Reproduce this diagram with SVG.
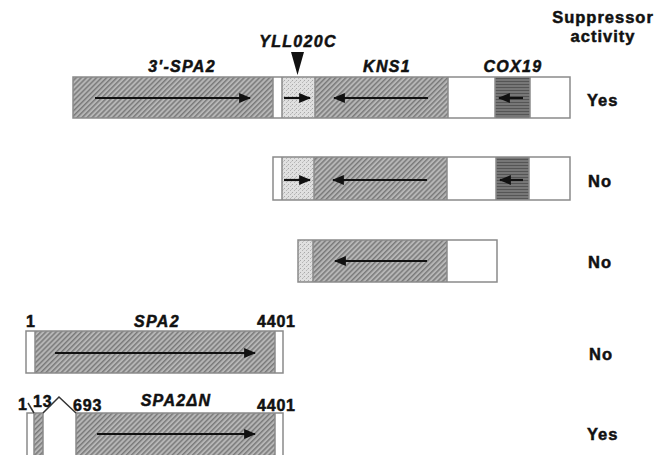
<svg xmlns="http://www.w3.org/2000/svg" width="665" height="455" viewBox="0 0 665 455">
<style>
text{font-family:"Liberation Sans",Arial,sans-serif;font-weight:bold;fill:#111;stroke:#111;stroke-width:0.5;}
.g{font-style:italic;font-size:16px;letter-spacing:1.3px;text-anchor:middle;}
.n{font-size:16px;letter-spacing:0.8px;}
.h{font-size:16.5px;letter-spacing:1px;text-anchor:middle;}
.r{font-size:16.5px;letter-spacing:1px;}
.box{stroke:#8a8a8a;stroke-width:1.5;}
.hat{fill:url(#hatch);}
.dot{fill:url(#stip);}
.dark{fill:url(#horiz);}
.wh{fill:#fff;}
.arr{stroke:#111;stroke-width:2.2;fill:none;}
.zz{stroke:#333;stroke-width:1.5;fill:none;}
</style>
<defs>
<pattern id="hatch" width="3.6" height="3.6" patternUnits="userSpaceOnUse" patternTransform="rotate(45)">
<rect width="3.6" height="3.6" fill="#b6b6b6"/>
<rect width="1.5" height="3.6" fill="#7a7a7a"/>
</pattern>
<pattern id="stip" width="4" height="4" patternUnits="userSpaceOnUse">
<rect width="4" height="4" fill="#e0e0e0"/>
<rect x="0" y="0" width="1" height="1" fill="#a8a8a8"/>
<rect x="2" y="2" width="1" height="1" fill="#b5b5b5"/>
<rect x="3" y="1" width="1" height="1" fill="#c5c5c5"/>
</pattern>
<pattern id="horiz" width="3" height="3" patternUnits="userSpaceOnUse">
<rect width="3" height="3" fill="#777"/>
<rect width="3" height="1" fill="#555"/>
</pattern>
<marker id="ah" viewBox="0 0 12 10" refX="11" refY="5" markerWidth="5.5" markerHeight="4.5" orient="auto-start-reverse" markerUnits="strokeWidth">
<path d="M0,0 L12,5 L0,10 z" fill="#111"/>
</marker>
</defs>
<rect width="665" height="455" fill="#fff"/>

<g id="header">
<text class="h" x="603" y="23">Suppressor</text>
<text class="h" x="603" y="42">activity</text>
</g>

<g id="row1">
<text class="g" x="182" y="72">3'-SPA2</text>
<text class="g" x="298" y="47">YLL020C</text>
<path d="M291,52 L304,52 L297.5,75 z" fill="#111"/>
<text class="g" x="387" y="72">KNS1</text>
<text class="g" x="513" y="72">COX19</text>
<rect class="hat" x="73" y="77" width="200" height="41"/>
<rect class="wh" x="273" y="77" width="9" height="41"/>
<rect class="dot" x="282" y="77" width="33" height="41"/>
<rect class="hat" x="315" y="77" width="133" height="41"/>
<rect class="wh" x="448" y="77" width="47" height="41"/>
<rect class="dark" x="495" y="77" width="35" height="41"/>
<rect class="wh" x="530" y="77" width="40" height="41"/>
<rect class="box" x="73" y="77" width="497" height="41" fill="none"/>
<path class="box" d="M273,77V118M282,77V118M315,77V118M448,77V118M495,77V118M530,77V118" fill="none" stroke-width="1"/>
<text class="r" x="587" y="106">Yes</text>
</g>

<g id="row2">
<rect class="wh" x="273" y="157" width="9" height="43"/>
<rect class="dot" x="282" y="157" width="32" height="43"/>
<rect class="hat" x="314" y="157" width="133" height="43"/>
<rect class="wh" x="447" y="157" width="49" height="43"/>
<rect class="dark" x="496" y="157" width="33" height="43"/>
<rect class="wh" x="529" y="157" width="41" height="43"/>
<rect class="box" x="273" y="157" width="297" height="43" fill="none"/>
<path class="box" d="M282,157V200M314,157V200M447,157V200M496,157V200M529,157V200" fill="none" stroke-width="1"/>
<text class="r" x="588" y="187">No</text>
</g>

<g id="row3">
<rect class="dot" x="298" y="240" width="15" height="42"/>
<rect class="hat" x="313" y="240" width="134" height="42"/>
<rect class="wh" x="447" y="240" width="50" height="42"/>
<rect class="box" x="298" y="240" width="199" height="42" fill="none"/>
<path class="box" d="M313,240V282M447,240V282" fill="none" stroke-width="1"/>
<text class="r" x="588" y="268">No</text>
</g>

<g id="row4">
<text class="n" x="26" y="327">1</text>
<text class="g" x="157" y="327">SPA2</text>
<text class="n" x="257" y="327">4401</text>
<rect class="wh" x="26" y="331" width="9" height="42"/>
<rect class="hat" x="35" y="331" width="240" height="42"/>
<rect class="wh" x="275" y="331" width="8" height="42"/>
<rect class="box" x="26" y="331" width="257" height="42" fill="none"/>
<path class="box" d="M35,331V373M275,331V373" fill="none" stroke-width="1"/>
<text class="r" x="589" y="360">No</text>
</g>

<g id="row5">
<text class="n" x="18" y="410">1</text>
<text class="n" x="33" y="407">13</text>
<text class="n" x="73" y="411">693</text>
<text class="g" x="176" y="406">SPA2ΔN</text>
<text class="n" x="257" y="411">4401</text>
<rect class="wh" x="27" y="413" width="7" height="50"/>
<rect class="hat" x="34" y="413" width="9" height="50"/>
<rect class="box" x="27" y="413" width="16" height="50" fill="none"/>
<path class="box" d="M34,413V463" fill="none" stroke-width="1"/>
<rect class="hat" x="76" y="413" width="199" height="50"/>
<rect class="wh" x="275" y="413" width="8" height="50"/>
<rect class="box" x="76" y="413" width="207" height="50" fill="none"/>
<path class="box" d="M275,413V463" fill="none" stroke-width="1"/>
<text class="r" x="587" y="440">Yes</text>
</g>

<g id="connectors">
<line class="arr" x1="95" y1="98" x2="250" y2="98" marker-end="url(#ah)"/>
<line class="arr" x1="284" y1="98" x2="310" y2="98" marker-end="url(#ah)"/>
<line class="arr" x1="428" y1="98" x2="334" y2="98" marker-end="url(#ah)"/>
<line class="arr" x1="523" y1="98" x2="499" y2="98" marker-end="url(#ah)"/>
<line class="arr" x1="284" y1="180" x2="310" y2="180" marker-end="url(#ah)"/>
<line class="arr" x1="427" y1="180" x2="333" y2="180" marker-end="url(#ah)"/>
<line class="arr" x1="523" y1="180" x2="500" y2="180" marker-end="url(#ah)"/>
<line class="arr" x1="427" y1="261" x2="335" y2="261" marker-end="url(#ah)"/>
<line class="arr" x1="55" y1="353" x2="255" y2="353" marker-end="url(#ah)"/>
<line class="arr" x1="97" y1="434" x2="255" y2="434" marker-end="url(#ah)"/>
<polyline class="zz" points="28,403 34,413"/>
<polyline class="zz" points="43,413 59,397 76,413"/>
</g>
</svg>
